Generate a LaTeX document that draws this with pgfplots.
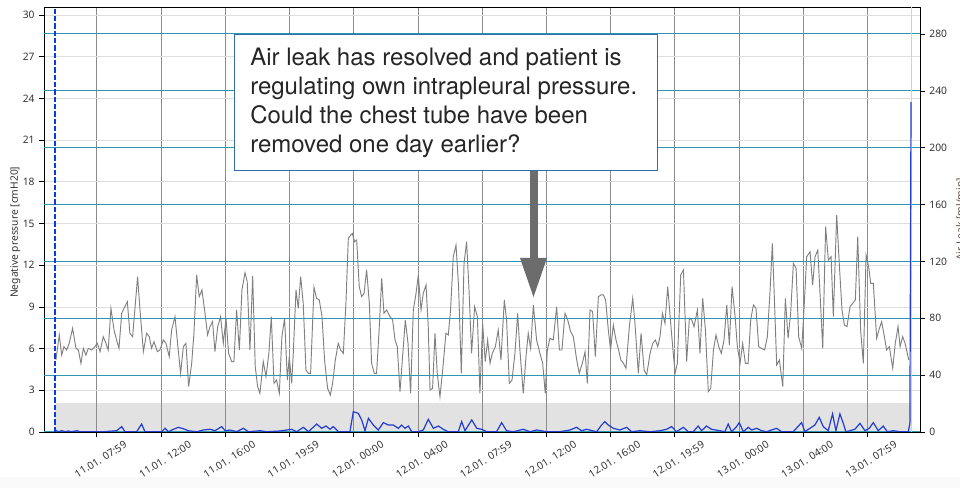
\documentclass[border=0pt]{standalone}
\usepackage{fontspec}
\setmainfont{Noto Sans}
\newfontfamily\annfont{TeX Gyre Heros}
\usepackage{pgfplots}
\pgfplotsset{compat=1.18}

\definecolor{gridteal}{RGB}{45,150,178}
\definecolor{vgrid}{RGB}{140,140,140}
\definecolor{hgrid}{RGB}{222,222,222}
\definecolor{band}{RGB}{226,226,226}
\definecolor{pres}{RGB}{128,128,128}
\definecolor{leak}{RGB}{35,60,210}
\definecolor{marker}{RGB}{10,60,225}
\definecolor{boxblue}{RGB}{46,110,170}
\definecolor{arrowgray}{RGB}{108,108,108}
\definecolor{ticktext}{RGB}{50,50,50}
\definecolor{rlabel}{RGB}{95,72,66}

% time in hours from 11.01. 00:00
\pgfplotsset{
  chartbase/.style={
    scale only axis, width=657pt, height=318.75pt,
    at={(33pt,42pt)}, anchor=south west,
    xmin=4.698, xmax=59.28,
    tick label style={font=\fontsize{7.7}{9}\selectfont, text=ticktext},
    label style={font=\fontsize{7.7}{9}\selectfont, text=ticktext},
    /pgf/number format/assume math mode=true,
    tick align=outside, major tick length=3.5pt,
    tick style={black, line width=0.5pt},
    axis line style={black, line width=0.6pt},
  }
}

\pgfplotstableread{
h p
5.44 5.18
5.65 6.98
5.80 5.54
5.94 6.14
6.11 5.90
6.27 6.38
6.48 7.46
6.69 6.02
6.84 5.90
7.00 4.94
7.15 6.02
7.31 5.54
7.46 6.02
7.67 5.90
7.87 6.14
8.02 6.38
8.19 5.78
8.39 6.86
8.56 6.38
8.70 5.90
8.87 8.90
9.06 7.34
9.22 6.62
9.37 6.02
9.54 8.54
9.74 9.02
9.89 9.38
10.05 7.10
10.22 6.86
10.53 11.18
10.68 8.78
10.89 5.78
11.09 7.10
11.26 6.86
11.40 6.02
11.55 6.50
11.76 5.78
11.92 5.90
12.13 6.62
12.30 6.38
12.50 5.42
12.65 7.34
12.86 8.30
13.02 6.38
13.21 4.22
13.38 6.14
13.54 6.38
13.71 3.26
13.90 4.94
14.04 7.10
14.21 11.30
14.37 9.74
14.54 10.22
14.73 8.54
14.89 6.98
15.04 7.58
15.20 7.94
15.35 5.78
15.52 7.58
15.70 8.30
15.87 6.38
16.04 8.18
16.20 5.66
16.39 5.06
16.53 5.06
16.70 8.78
16.87 5.90
17.03 10.22
17.22 11.46
17.36 10.82
17.53 5.90
17.70 11.22
17.86 4.70
18.01 3.26
18.15 2.78
18.36 5.06
18.53 3.98
18.71 5.66
18.86 8.30
19.03 3.50
19.19 3.74
19.36 2.78
19.52 6.86
19.69 8.18
19.86 3.74
19.98 5.42
20.13 3.50
20.23 5.66
20.40 10.22
20.54 8.90
20.69 11.18
20.85 9.26
21.02 4.46
21.17 4.22
21.31 4.22
21.52 10.41
21.68 9.62
21.85 9.50
22.02 8.30
22.18 5.18
22.37 3.14
22.54 2.66
22.68 3.50
22.85 5.18
23.03 6.38
23.18 5.90
23.35 5.66
23.51 9.26
23.66 13.93
23.76 14.10
23.91 14.29
24.05 13.69
24.18 13.81
24.34 10.46
24.49 9.74
24.64 9.98
24.80 11.66
24.97 9.26
25.11 4.94
25.28 4.22
25.42 4.22
25.59 7.58
25.74 11.06
25.88 8.54
26.05 8.78
26.26 8.30
26.42 8.06
26.57 6.62
26.71 6.14
26.88 2.90
27.04 5.42
27.21 8.06
27.38 6.38
27.54 2.78
27.71 8.78
27.88 9.98
28.02 11.30
28.19 8.78
28.33 9.98
28.50 10.58
28.64 7.58
28.75 3.02
28.91 3.14
29.06 7.10
29.20 4.22
29.37 2.54
29.54 4.46
29.74 7.10
29.89 6.98
30.03 8.78
30.20 12.61
30.37 13.45
30.53 10.46
30.70 4.22
30.87 12.13
31.03 13.69
31.18 10.22
31.34 5.66
31.53 9.02
31.70 8.30
31.86 2.78
32.03 7.82
32.19 5.06
32.34 6.62
32.49 4.94
32.63 5.66
32.82 6.14
33.00 7.34
33.17 5.18
33.38 9.50
33.52 8.06
33.69 3.50
33.86 3.74
34.04 5.66
34.21 8.54
34.35 5.90
34.56 2.78
34.73 5.42
34.87 7.10
35.02 6.02
35.19 9.14
35.39 6.62
35.60 5.66
35.77 4.94
35.93 2.78
36.06 5.90
36.22 6.74
36.43 6.62
36.64 9.02
36.81 5.90
36.97 5.90
37.16 8.54
37.33 8.06
37.51 7.22
37.68 6.86
37.89 5.18
38.05 4.22
38.24 4.94
38.41 5.78
38.55 3.50
38.72 8.78
38.88 8.66
39.05 5.42
39.24 9.74
39.40 9.86
39.55 9.86
39.69 9.50
39.86 7.34
40.00 5.90
40.17 7.70
40.34 6.62
40.50 5.90
40.64 5.18
40.80 4.94
40.96 4.58
41.17 7.58
41.38 9.62
41.52 7.82
41.73 4.22
41.90 7.10
42.09 4.46
42.25 4.10
42.46 5.66
42.63 6.38
42.79 6.62
42.94 6.14
43.08 6.86
43.23 8.54
43.39 7.82
43.56 10.46
43.71 8.30
43.87 6.14
44.02 4.22
44.16 4.94
44.37 11.30
44.54 11.66
44.74 5.06
44.91 8.18
45.06 8.06
45.20 7.58
45.41 8.78
45.57 5.66
45.74 9.62
45.91 7.34
46.09 2.90
46.24 3.14
46.41 5.90
46.57 6.98
46.74 6.14
46.90 5.66
47.07 6.62
47.24 9.14
47.40 6.26
47.57 10.46
47.76 8.30
47.90 6.14
48.07 4.94
48.23 6.38
48.40 4.94
48.57 4.94
48.73 8.06
48.90 9.14
49.06 8.90
49.23 6.14
49.40 6.02
49.60 5.90
49.77 6.86
49.94 10.22
50.08 13.57
50.21 9.50
50.35 4.82
50.52 5.18
50.73 3.26
50.89 9.62
51.06 6.74
51.22 8.54
51.39 12.13
51.56 11.78
51.72 6.86
51.91 6.02
52.05 8.78
52.22 12.61
52.43 12.97
52.59 10.58
52.74 12.61
52.91 13.09
53.05 9.98
53.22 6.02
53.40 14.77
53.57 12.37
53.74 12.61
53.88 8.30
54.09 15.61
54.26 11.90
54.42 8.78
54.57 7.70
54.73 7.58
54.92 9.02
55.09 9.26
55.25 9.50
55.40 14.05
55.58 7.34
55.75 4.94
55.92 12.73
56.08 11.90
56.21 10.70
56.37 10.70
56.58 6.74
56.75 7.46
56.89 7.94
57.06 6.86
57.20 5.90
57.37 6.14
57.58 4.58
57.74 6.38
57.91 7.58
58.04 6.14
58.20 6.86
58.35 6.38
58.58 5.18
}\pressure

\pgfplotstableread{
h r
5.38 1.4
5.59 0.2
5.80 0.9
6.01 0.2
6.21 0.7
6.42 0.2
6.73 0.9
6.94 0.2
8.40 0.2
9.23 0.9
9.54 3.8
9.74 0.2
10.47 0.2
10.78 5.6
10.99 0.2
12.03 0.2
12.24 2.6
12.45 0.2
12.76 1.9
13.07 3.3
13.38 2.3
13.69 0.9
14.21 0.2
14.63 1.4
15.04 1.9
15.35 0.9
15.77 3.8
15.98 0.9
16.29 1.4
16.70 0.2
17.12 2.6
17.43 0.2
18.16 0.9
18.57 0.2
19.40 0.7
20.13 1.9
20.44 0.2
20.86 3.3
21.17 0.2
21.69 5.6
22.00 2.6
22.27 4.2
22.52 1.9
22.72 3.8
23.04 0.2
23.76 0.2
23.97 14.3
24.28 13.1
24.49 8.5
24.70 0.9
24.91 9.6
25.22 4.9
25.53 1.4
25.84 6.6
26.15 4.9
26.46 4.9
26.78 2.6
26.98 4.9
27.19 2.6
27.40 4.2
27.61 0.2
28.02 0.2
28.33 1.4
28.64 8.9
28.96 2.6
29.27 4.2
29.58 1.9
29.89 0.2
30.51 0.2
30.72 7.3
30.93 0.9
31.35 8.5
31.66 2.6
31.97 1.9
32.28 0.2
32.90 0.2
33.21 6.6
33.52 0.9
33.94 0.2
34.56 1.9
34.98 0.2
35.39 1.4
36.01 0.2
36.84 0.2
37.47 1.4
37.88 3.3
38.19 0.9
38.51 1.9
39.13 0.2
39.44 4.9
39.65 7.3
39.86 4.9
40.17 2.6
40.58 1.4
41.00 3.3
41.31 0.2
41.83 0.9
42.45 0.2
43.08 0.9
43.49 1.9
43.80 3.8
44.11 0.2
44.53 3.3
44.84 0.2
45.15 0.2
45.46 4.2
45.67 0.9
45.98 4.2
46.29 1.9
46.81 0.9
47.12 0.2
47.33 5.6
47.54 0.2
47.85 3.8
48.02 6.6
48.27 0.2
48.58 3.3
48.79 1.4
49.10 2.6
49.41 0.9
49.72 0.2
50.34 2.6
50.66 0.2
51.38 0.2
51.90 6.6
52.11 0.2
52.42 2.6
52.73 4.9
53.00 10.3
53.25 3.8
53.56 0.9
53.83 12.7
54.04 0.9
54.29 12.7
54.50 6.1
54.66 0.2
54.91 0.9
55.22 1.9
55.54 6.1
55.85 0.9
56.12 2.6
56.37 6.6
56.68 0.9
56.99 4.2
57.24 0.2
57.61 0.9
58.03 0.2
58.55 0.2
58.65 6.1
58.72 232
}\airleak

\begin{document}
\begin{tikzpicture}
\useasboundingbox (0,0) rectangle (720pt,366pt);
\clip (0,0) rectangle (720pt,366pt);
\fill[gray!5] (0,0) rectangle (720pt,8.25pt);

% shaded reference band (under all grids)
\begin{axis}[chartbase, ymin=0, ymax=30.58, hide axis]
\addplot[draw=none, fill=band] coordinates {(5.38,2.1) (58.76,2.1)} \closedcycle;
\end{axis}

% left axis: negative pressure
\begin{axis}[chartbase, ymin=0, ymax=30.58,
  ytick={0,3,...,30}, ytick pos=left, xtick pos=bottom,
  xtick={7.983,12,16,19.983,24,28,31.983,36,40,43.983,48,52,55.983},
  xticklabels={11.01. 07:59,11.01. 12:00,11.01. 16:00,11.01. 19:59,12.01. 00:00,12.01. 04:00,12.01. 07:59,12.01. 12:00,12.01. 16:00,12.01. 19:59,13.01. 00:00,13.01. 04:00,13.01. 07:59},
  xticklabel style={xshift=3pt, yshift=-17pt, rotate=32, anchor=center},
  xmajorgrids, ymajorgrids,
  x grid style={vgrid, line width=0.6pt},
  y grid style={hgrid, line width=0.6pt},
  ylabel={Negative pressure [cmH20]}, ylabel shift=-5pt,
  ylabel style={at={(ticklabel cs:0.47)}},
]
\addplot[pres, line width=0.7pt] table[x=h, y=p] {\pressure};
\end{axis}

% right axis: air leak
\begin{axis}[chartbase, ymin=0, ymax=299,
  axis y line*=right, axis x line=none,
  ytick={0,40,...,280},
  ymajorgrids, y grid style={gridteal, line width=0.75pt},
  ylabel={Air Leak [ml/min]}, ylabel style={text=rlabel},
]
\addplot[gray!35, line width=1.2pt] coordinates {(58.76,0) (58.76,299)};
\addplot[marker, line width=1.6pt, dash pattern=on 4pt off 1.5pt] coordinates {(5.38,0) (5.38,299)};
\addplot[leak, line width=0.9pt] table[x=h, y=r] {\airleak};
\end{axis}

% annotation
\begin{scope}[x=0.75pt, y=0.75pt]
\fill[arrowgray] (529.5,318) rectangle (538,230);
\fill[arrowgray] (520,230) -- (547,230) -- (533.5,191) -- cycle;
\draw[boxblue, fill=white, line width=0.7pt] (234,454) rectangle (657,318);
\begin{scope}[every node/.style={anchor=base west, inner sep=0pt, font=\annfont\fontsize{18}{21.6}\selectfont, text=black!85}]
\node at (250,422.3) {Air leak has resolved and patient is};
\node at (250,393) {regulating own intrapleural pressure.};
\node at (250,364) {Could the chest tube have been};
\node at (250,335.3) {removed one day earlier?};
\end{scope}
\end{scope}
\end{tikzpicture}
\end{document}
